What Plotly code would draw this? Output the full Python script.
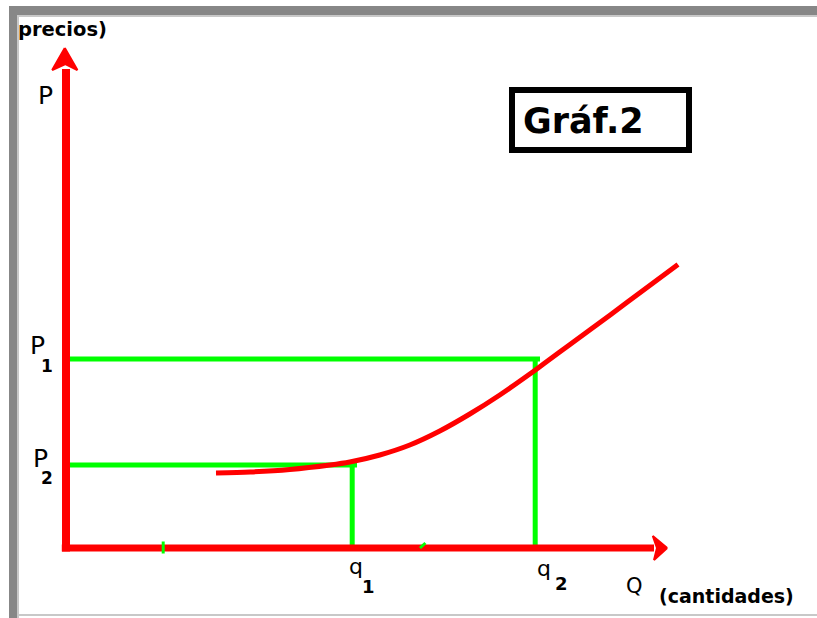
import plotly.graph_objects as go

# ---------------- data (Q in quantity units, P in price units) ----------------
curve_q = [2.50, 3.07, 3.73, 4.40, 4.73, 5.23, 5.73, 6.23, 6.73, 7.23, 7.73, 7.98, 8.40, 9.07, 9.65, 10.20]
curve_p = [1.50, 1.52, 1.57, 1.66, 1.72, 1.86, 2.06, 2.34, 2.68, 3.06, 3.48, 3.70, 4.07, 4.66, 5.18, 5.67]
q_levels = [4.77, 7.82]          # q1, q2
p_levels = [1.66, 3.78]          # P2, P1
q_labels = ["1", "2"]
p_labels = ["2", "1"]
tick_marks_q = [1.62, 5.95]
axis_q_max = 10.02
axis_p_max = 10.0

# ---------------- geometry helpers ----------------
W, H = 817, 618
OX, OY = 66, 548        # origin in pixels
SX, SY = 60.0, 50.0     # pixels per unit

def px2x(px):
    return (px - OX) / SX

def py2y(py):
    return (OY - py) / SY

def pxp(px):
    return px / W

def pyp(py):
    return 1 - py / H

RED = "#FF0000"
GREEN = "#00FF00"

fig = go.Figure()

# green guide lines (P1 -> q2, P2 -> q1)
for q, p in zip(q_levels, p_levels):
    fig.add_trace(go.Scatter(x=[0, q + 0.08], y=[p, p], mode="lines",
                             line=dict(color=GREEN, width=5), hoverinfo="skip"))
    fig.add_trace(go.Scatter(x=[q, q], y=[p, 0], mode="lines",
                             line=dict(color=GREEN, width=5), hoverinfo="skip"))

# red curve
fig.add_trace(go.Scatter(x=curve_q, y=curve_p, mode="lines",
                         line=dict(color=RED, width=5, shape="spline", smoothing=0.8),
                         hoverinfo="skip"))

# axes
fig.add_trace(go.Scatter(x=[0, 0], y=[-0.07, axis_p_max - 0.42], mode="lines",
                         line=dict(color=RED, width=8), hoverinfo="skip"))
fig.add_trace(go.Scatter(x=[-0.07, 0], y=[0, 0], mode="lines", line=dict(color=RED, width=7), hoverinfo="skip"))
fig.add_trace(go.Scatter(x=[0, axis_q_max - 0.22], y=[0, 0], mode="lines",
                         line=dict(color=RED, width=7), hoverinfo="skip"))
# arrow heads
fig.add_trace(go.Scatter(x=[-0.02, -0.23, -0.01, 0.19, -0.02],
                         y=[axis_p_max, axis_p_max - 0.44, axis_p_max - 0.32, axis_p_max - 0.44, axis_p_max],
                         mode="lines", fill="toself", fillcolor=RED, line=dict(color=RED, width=2),
                         hoverinfo="skip"))
fig.add_trace(go.Scatter(x=[axis_q_max, axis_q_max - 0.24, axis_q_max - 0.17, axis_q_max - 0.22, axis_q_max],
                         y=[0, 0.24, 0, -0.24, 0],
                         mode="lines", fill="toself", fillcolor=RED, line=dict(color=RED, width=2),
                         hoverinfo="skip"))

# green tick marks on Q axis (drawn over the axis)
fig.add_trace(go.Scatter(x=[tick_marks_q[0], tick_marks_q[0]], y=[-0.11, 0.13], mode="lines",
                         line=dict(color=GREEN, width=3), hoverinfo="skip"))
fig.add_trace(go.Scatter(x=[tick_marks_q[1] - 0.05, tick_marks_q[1] + 0.04], y=[0.0, 0.1], mode="lines",
                         line=dict(color=GREEN, width=3), hoverinfo="skip"))

# ---------------- text ----------------
ann = []
def label(text, px, py, size, bold=False, family="DejaVu Sans"):
    ann.append(dict(x=pxp(px), y=pyp(py), xref="paper", yref="paper", text=f"<b>{text}</b>" if bold else text,
                    showarrow=False, xanchor="center", yanchor="middle",
                    font=dict(family=family, size=size, color="black")))

label("precios)", 62, 29, 19.5, bold=True)
label("P", 45, 96, 25)
label("P", 37, 345, 25)
label(p_labels[1], 47, 366, 17, bold=True)
label("P", 40, 458, 25)
label(p_labels[0], 47, 478, 17, bold=True)
label("q", 356, 566, 22)
label(q_labels[0], 368, 586, 18, bold=True)
label("q", 544, 568, 22)
label(q_labels[1], 561, 583, 18, bold=True)
label("Q", 634, 586, 21)
label("(cantidades)", 726, 596, 19, bold=True)
label("Gráf.2", 583, 121, 35, bold=True)

# ---------------- frame shapes ----------------
shapes = [
    dict(type="rect", xref="paper", yref="paper", x0=pxp(9), x1=pxp(817), y0=pyp(6), y1=pyp(15),
         fillcolor="#878787", line=dict(width=0), layer="above"),
    dict(type="rect", xref="paper", yref="paper", x0=pxp(9), x1=pxp(17), y0=pyp(6), y1=pyp(618),
         fillcolor="#878787", line=dict(width=0), layer="above"),
    dict(type="rect", xref="paper", yref="paper", x0=pxp(17), x1=pxp(19), y0=pyp(15), y1=pyp(618),
         fillcolor="#c8c8c8", line=dict(width=0), layer="above"),
    dict(type="rect", xref="paper", yref="paper", x0=pxp(17), x1=pxp(817), y0=pyp(15), y1=pyp(17),
         fillcolor="#c8c8c8", line=dict(width=0), layer="above"),
    dict(type="rect", xref="paper", yref="paper", x0=pxp(17), x1=pxp(817), y0=pyp(614), y1=pyp(616),
         fillcolor="#c8c8c8", line=dict(width=0), layer="above"),
    dict(type="rect", xref="paper", yref="paper", x0=pxp(512), x1=pxp(689), y0=pyp(90), y1=pyp(150),
         line=dict(color="black", width=6), fillcolor="rgba(0,0,0,0)", layer="above"),
]

fig.update_layout(
    width=W, height=H, margin=dict(l=0, r=0, t=0, b=0),
    paper_bgcolor="white", plot_bgcolor="white", showlegend=False,
    xaxis=dict(range=[px2x(0), px2x(W)], visible=False, fixedrange=True),
    yaxis=dict(range=[py2y(H), py2y(0)], visible=False, fixedrange=True),
    annotations=ann, shapes=shapes,
)

fig.write_html("out.html", config={"displayModeBar": False},
               post_script="document.body.style.margin='0';document.body.style.overflow='hidden';")
